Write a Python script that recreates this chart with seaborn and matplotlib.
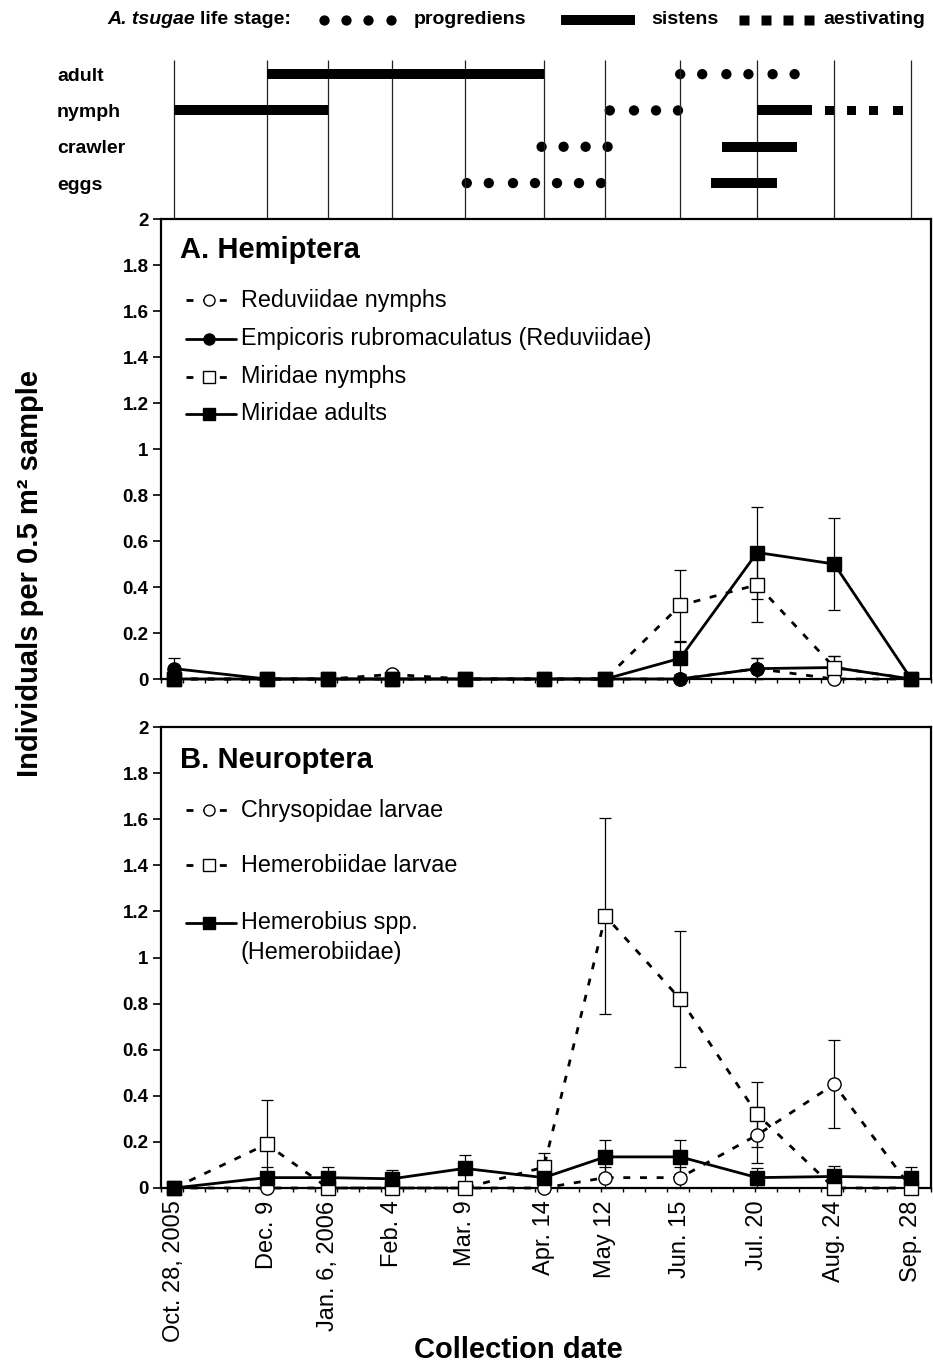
import numpy as np
import pandas as pd
import matplotlib
matplotlib.use("Agg")
import matplotlib.pyplot as plt
import matplotlib.dates as mdates
from matplotlib.lines import Line2D
from matplotlib.ticker import FixedLocator
import seaborn as sns

sns.set_theme(style="white")
plt.rcParams["font.family"] = ["Liberation Sans", "DejaVu Sans"]
plt.rcParams["text.color"] = "black"
plt.rcParams["axes.labelcolor"] = "black"
plt.rcParams["xtick.color"] = "black"
plt.rcParams["ytick.color"] = "black"

# ---------------- data ----------------
dates = ["2005-10-28", "2005-12-09", "2006-01-06", "2006-02-04", "2006-03-09", "2006-04-14",
         "2006-05-12", "2006-06-15", "2006-07-20", "2006-08-24", "2006-09-28"]
date_labels = ["Oct. 28, 2005", "Dec. 9", "Jan. 6, 2006", "Feb. 4", "Mar. 9", "Apr. 14",
               "May 12", "Jun. 15", "Jul. 20", "Aug. 24", "Sep. 28"]

# Panel A: Hemiptera
reduv_nymph = [0, 0, 0, 0.02, 0, 0, 0, 0, 0.045, 0, 0]
reduv_nymph_se = [0, 0, 0, 0.02, 0, 0, 0, 0, 0.045, 0, 0]
empicoris = [0.045, 0, 0, 0, 0, 0, 0, 0, 0.045, 0.05, 0]
empicoris_se = [0.045, 0, 0, 0, 0, 0, 0, 0, 0.045, 0.05, 0]
mirid_nymph = [0, 0, 0, 0, 0, 0, 0, 0.32, 0.41, 0.05, 0]
mirid_nymph_se = [0, 0, 0, 0, 0, 0, 0, 0.155, 0.16, 0.05, 0]
mirid_adult = [0, 0, 0, 0, 0, 0, 0, 0.09, 0.55, 0.50, 0]
mirid_adult_se = [0, 0, 0, 0, 0, 0, 0, 0.07, 0.20, 0.20, 0]

# Panel B: Neuroptera
chrys_larv = [0, 0, 0, 0, 0, 0, 0.045, 0.045, 0.23, 0.45, 0]
chrys_larv_se = [0, 0, 0, 0, 0, 0, 0.045, 0.045, 0.12, 0.19, 0]
hemerob_larv = [0, 0.19, 0, 0, 0, 0.09, 1.18, 0.82, 0.32, 0, 0]
hemerob_larv_se = [0, 0.19, 0, 0, 0, 0.06, 0.425, 0.295, 0.14, 0, 0]
hemerobius = [0, 0.045, 0.045, 0.04, 0.085, 0.045, 0.135, 0.135, 0.045, 0.05, 0.045]
hemerobius_se = [0, 0.045, 0.045, 0.04, 0.06, 0.045, 0.075, 0.075, 0.04, 0.045, 0.045]

# A. tsugae life stages
stage_rows = ["adult", "nymph", "crawler", "eggs"]
sistens_row = ["adult", "nymph", "nymph", "crawler", "eggs"]
sistens_start = ["2005-12-09", "2005-10-28", "2006-07-20", "2006-07-04", "2006-06-29"]
sistens_end = ["2006-04-14", "2006-01-06", "2006-08-14", "2006-08-07", "2006-07-29"]
prog_adult = ["2006-06-15", "2006-06-25", "2006-07-06", "2006-07-16", "2006-07-27", "2006-08-06"]
prog_nymph = ["2006-05-14", "2006-05-25", "2006-06-04", "2006-06-14"]
prog_crawler = ["2006-04-13", "2006-04-23", "2006-05-03", "2006-05-13"]
prog_eggs = ["2006-03-10", "2006-03-20", "2006-03-31", "2006-04-10", "2006-04-20",
             "2006-04-30", "2006-05-10"]
aest_nymph = ["2006-08-22", "2006-09-01", "2006-09-11", "2006-09-22"]

# ---------------- layout ----------------
W, H = 933, 1367
fig = plt.figure(figsize=(W / 100, H / 100), dpi=100)


def rect(l, t, r, b):
    return [l / W, 1 - b / H, (r - l) / W, (b - t) / H]


def fx(px):
    return px / W


def fy(py):
    return 1 - py / H


ax0 = fig.add_axes(rect(161, 60, 931, 219))
axA = fig.add_axes(rect(161, 219, 931, 679))
axB = fig.add_axes(rect(161, 727, 931, 1188))

xdates = pd.to_datetime(pd.Series(dates))
xmin, xmax = pd.Timestamp("2005-10-22"), pd.Timestamp("2006-10-07")
minor_locs = mdates.date2num(pd.date_range(xmin, xmax, freq="10D").to_pydatetime())

# ---------------- top life-stage panel ----------------
row_y = {r: len(stage_rows) - 1 - i for i, r in enumerate(stage_rows)}
ax0.vlines(mdates.date2num(xdates.dt.to_pydatetime()), 0, 1,
           transform=ax0.get_xaxis_transform(), color="#222222", lw=0.9)
for r, s, e in zip(sistens_row, sistens_start, sistens_end):
    ax0.hlines(row_y[r], mdates.date2num(pd.Timestamp(s)), mdates.date2num(pd.Timestamp(e)),
               color="black", lw=7.2, capstyle="butt")
for r, lst in zip(["adult", "nymph", "crawler", "eggs"],
                  [prog_adult, prog_nymph, prog_crawler, prog_eggs]):
    d = pd.DataFrame({"x": mdates.date2num(pd.to_datetime(lst).to_pydatetime()),
                      "y": [row_y[r]] * len(lst)})
    sns.scatterplot(data=d, x="x", y="y", ax=ax0, marker="o", s=55, color="black",
                    edgecolor="none", legend=False)
d = pd.DataFrame({"x": mdates.date2num(pd.to_datetime(aest_nymph).to_pydatetime()),
                  "y": [row_y["nymph"]] * len(aest_nymph)})
sns.scatterplot(data=d, x="x", y="y", ax=ax0, marker="s", s=45, color="black",
                edgecolor="none", legend=False)
ax0.set_xlim(mdates.date2num(xmin), mdates.date2num(xmax))
ax0.set_ylim(-0.99, 3.39)
ax0.set_yticks([row_y[r] for r in stage_rows])
ax0.set_yticklabels(stage_rows, fontsize=14, fontweight="bold", ha="left")
ax0.tick_params(axis="y", length=0, pad=104 / 1.389)
ax0.set_xticks([])
ax0.set_xlabel("")
ax0.set_ylabel("")
for sp in ax0.spines.values():
    sp.set_visible(False)
ax0.patch.set_alpha(0)

# top legend
ly = fy(20)
LF = 14
t1 = fig.text(fx(107), ly, "A. tsugae", fontsize=LF, fontweight="bold", fontstyle="italic",
              ha="left", va="center")
fig.canvas.draw()
bb = t1.get_window_extent(renderer=fig.canvas.get_renderer())
fig.text(bb.x1 / W + fx(5), ly, "life stage:", fontsize=LF, fontweight="bold",
         ha="left", va="center")
fig.add_artist(Line2D([fx(v) for v in (324, 346, 368, 391)], [ly] * 4, transform=fig.transFigure,
                      ls="none", marker="o", ms=7.4, color="black", mec="none"))
fig.text(fx(414), ly, "progrediens", fontsize=LF, fontweight="bold", ha="left", va="center")
fig.add_artist(Line2D([fx(561), fx(635)], [ly, ly], transform=fig.transFigure,
                      lw=7.2, color="black", solid_capstyle="butt"))
fig.text(fx(651), ly, "sistens", fontsize=LF, fontweight="bold", ha="left", va="center")
fig.add_artist(Line2D([fx(v) for v in (744, 766, 788, 809)], [ly] * 4, transform=fig.transFigure,
                      ls="none", marker="s", ms=6.8, color="black", mec="none"))
fig.text(fx(823), ly, "aestivating", fontsize=LF, fontweight="bold", ha="left", va="center")

# ---------------- data panels ----------------
DASH = (0, (2.5, 3.5))


def draw_series(ax, vals, se, marker, filled, dashed, z):
    df = pd.DataFrame({"date": xdates, "val": vals})
    sns.lineplot(data=df, x="date", y="val", ax=ax, color="black", lw=2.0,
                 linestyle=DASH if dashed else "-", marker=marker, markersize=9.5,
                 markerfacecolor="black" if filled else "white", markeredgecolor="black",
                 markeredgewidth=1.0, errorbar=None, clip_on=False, zorder=z, legend=False)
    se = np.asarray(se, float)
    m = se > 0
    if m.any():
        ax.errorbar(xdates[m], np.asarray(vals, float)[m], yerr=se[m], fmt="none", ecolor="black",
                    elinewidth=0.9, capsize=4.5, capthick=0.9, zorder=1.5, clip_on=False)


def style_panel(ax, show_labels):
    ax.set_xlim(xmin, xmax)
    ax.set_ylim(0, 2)
    yt = np.round(np.arange(0, 2.01, 0.2), 1)
    ax.set_yticks(yt)
    ax.set_yticklabels([f"{v:g}" for v in yt], fontsize=13.5, fontweight="bold")
    ax.tick_params(axis="y", direction="out", length=6, width=1.2, color="black", pad=3, left=True)
    ax.set_xticks(mdates.date2num(xdates.dt.to_pydatetime()))
    if show_labels:
        ax.set_xticklabels(date_labels, rotation=90, fontsize=17, ha="center", va="top")
    else:
        ax.set_xticklabels([])
    ax.tick_params(axis="x", which="major", length=0, pad=9)
    ax.xaxis.set_minor_locator(FixedLocator(minor_locs))
    ax.tick_params(axis="x", which="minor", direction="out", length=3, width=1.0,
                   color="black", bottom=True)
    ax.set_xlabel("")
    ax.set_ylabel("")
    for sp in ax.spines.values():
        sp.set_visible(True)
        sp.set_color("black")
        sp.set_linewidth(1.6)
    ax.grid(False)


draw_series(axA, reduv_nymph, reduv_nymph_se, "o", False, True, 3)
draw_series(axA, empicoris, empicoris_se, "o", True, False, 4)
draw_series(axA, mirid_nymph, mirid_nymph_se, "s", False, True, 5)
draw_series(axA, mirid_adult, mirid_adult_se, "s", True, False, 6)
style_panel(axA, False)

draw_series(axB, chrys_larv, chrys_larv_se, "o", False, True, 3)
draw_series(axB, hemerob_larv, hemerob_larv_se, "s", False, True, 4)
draw_series(axB, hemerobius, hemerobius_se, "s", True, False, 5)
style_panel(axB, True)

# ---------------- legends ----------------
LEGF = 16.8


def legend_entry(ypx, label, marker, filled, dashed):
    y = fy(ypx)
    fig.add_artist(Line2D([fx(186), fx(209), fx(236)], [y, y, y], transform=fig.transFigure,
                          color="black", lw=2.0, linestyle=DASH if dashed else "-",
                          marker=marker, markevery=[1], ms=8,
                          mfc="black" if filled else "white", mec="black", mew=1.0))
    fig.text(fx(241), y, label, fontsize=LEGF, ha="left", va="center")


fig.text(fx(180), fy(250), "A. Hemiptera", fontsize=21, fontweight="bold", ha="left", va="center")
legend_entry(300, "Reduviidae nymphs", "o", False, True)
legend_entry(339, "Empicoris rubromaculatus (Reduviidae)", "o", True, False)
legend_entry(377, "Miridae nymphs", "s", False, True)
legend_entry(414, "Miridae adults", "s", True, False)

fig.text(fx(180), fy(760), "B. Neuroptera", fontsize=21, fontweight="bold", ha="left", va="center")
legend_entry(810, "Chrysopidae larvae", "o", False, True)
legend_entry(865, "Hemerobiidae larvae", "s", False, True)
legend_entry(923, "Hemerobius spp.", "s", True, False)
fig.text(fx(241), fy(952), "(Hemerobiidae)", fontsize=LEGF, ha="left", va="center")

# axis labels
fig.text(fx(30), fy(573), "Individuals per 0.5 m\u00b2 sample", rotation=90, fontsize=21,
         fontweight="bold", ha="center", va="center")
fig.text(fx(518), fy(1350), "Collection date", fontsize=21, fontweight="bold",
         ha="center", va="center")

fig.savefig("out.png", dpi=100)
